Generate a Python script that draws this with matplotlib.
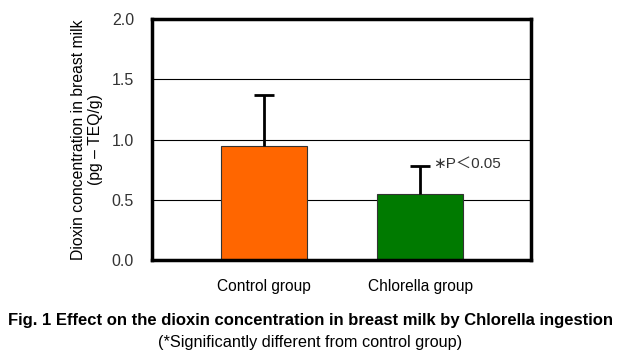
import matplotlib.pyplot as plt

plt.rcParams['font.family'] = ['Liberation Sans', 'Noto Sans CJK JP', 'DejaVu Sans']

groups = ['Control group', 'Chlorella group']
means = [0.95, 0.55]
errs = [0.42, 0.23]
colors = ['#ff6600', '#007a00']

fig = plt.figure(figsize=(6.2, 3.53), dpi=100)
ax = fig.add_axes([152 / 620, 1 - 260 / 353, 379 / 620, 241 / 353])

x = range(len(groups))
ax.bar(x, means, width=0.55, color=colors, edgecolor='#333333', linewidth=0.8, zorder=2)
eb = ax.errorbar(x, means, yerr=[[0, 0], errs], fmt='none', ecolor='black',
                 elinewidth=2, capsize=7, capthick=2, zorder=3)
# only the upper cap
eb[1][0].set_visible(False)

ax.set_xlim(-0.72, 1.71)
ax.set_ylim(0, 2.0)
ax.set_yticks([0.0, 0.5, 1.0, 1.5, 2.0])
ax.set_yticklabels(['0.0', '0.5', '1.0', '1.5', '2.0'])
ax.yaxis.grid(True, color='black', linewidth=0.8, zorder=0)
ax.set_axisbelow(True)
ax.tick_params(axis='y', length=0, labelsize=11.5, colors='#333333', pad=13)
ax.set_xticks(list(x))
ax.set_xticklabels(groups)
ax.tick_params(axis='x', length=0, labelsize=11.2, pad=14)
for s in ax.spines.values():
    s.set_linewidth(2.5)

ax.set_ylabel('Dioxin concentration in breast milk\n(pg \u2013 TEQ/g)', fontsize=11.3, labelpad=6)
ax.text(1.08, 0.8, '∗P＜0.05', fontsize=11, color='#333333', va='center')

fig.text(0.5, 1 - 321 / 353, 'Fig. 1 Effect on the dioxin concentration in breast milk by Chlorella ingestion',
         ha='center', va='center', fontsize=12, fontweight='bold')
fig.text(0.5, 1 - 342 / 353, '(*Significantly different from control group)',
         ha='center', va='center', fontsize=11.7)

fig.savefig('out.png', dpi=100)
